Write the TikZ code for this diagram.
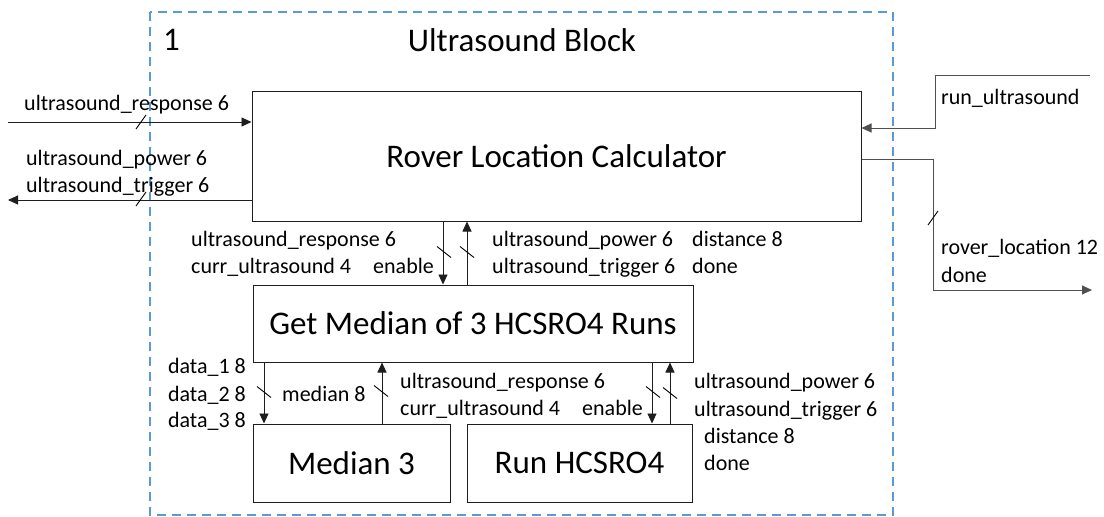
\documentclass[tikz,border=0pt]{standalone}
\usepackage{fontspec}
\setmainfont{Carlito}
\usetikzlibrary{arrows.meta}
\definecolor{dashblue}{RGB}{91,155,213}
\definecolor{wire}{RGB}{30,30,30}
\definecolor{graywire}{RGB}{80,80,80}
\begin{document}
\begin{tikzpicture}[x=1pt,y=-1pt,
  box/.style={draw=wire, line width=1pt, inner sep=0pt, font=\fontsize{33}{40}\selectfont},
  lbl/.style={inner sep=0pt, font=\fontsize{22}{26}\selectfont, text height=0.72em, text depth=0.22em},
  ttl/.style={inner sep=0pt, font=\fontsize{33}{40}\selectfont},
  arr/.style={draw=wire, line width=0.9pt, -{Triangle[length=10pt,width=9pt]}},
  garr/.style={draw=graywire, line width=1pt, -{Triangle[length=10pt,width=9pt]}},
  slashh/.pic={\draw[line width=0.9pt] (-5pt,-7pt) -- (5pt,7pt);},
  slashv/.pic={\draw[line width=0.9pt] (-7pt,5.5pt) -- (7pt,-5.5pt);},
]
\useasboundingbox (0,0) rectangle (1104,517);
% outer dashed block
\draw[dashblue, line width=1.6pt, dash pattern=on 9pt off 6pt] (150,12) rectangle (893,515);
\node[ttl, anchor=west] (num) at (163,40) {1};
\node[ttl] (title) at (522,40) {Ultrasound Block};

% boxes
\node[box, minimum width=609pt, minimum height=130pt] (rlc) at (556.5,156) {Rover Location Calculator};
\node[box, minimum width=440pt, minimum height=77pt] (gm) at (473,323.5) {Get Median of 3 HCSRO4 Runs};
\node[box, minimum width=197pt, minimum height=78pt] (m3) at (351.5,463) {Median 3};
\node[box, minimum width=225pt, minimum height=78pt] (rh) at (579.5,463) {Run HCSRO4};

% left external connectors
\coordinate (inL) at (8,122);
\coordinate (outL) at (8,200);
\draw[arr] (inL) -- (rlc.west |- inL);
\draw[arr] (rlc.west |- outL) -- (outL);
\pic at (141,122) {slashh};
\pic at (141,199) {slashh};
\node[lbl, anchor=west] (l1) at (24,108) {ultrasound\_response 6};
\node[lbl, anchor=west] (l2) at (26,163) {ultrasound\_power 6};
\node[lbl, anchor=west] (l3) at (26,190) {ultrasound\_trigger 6};

% right external connectors
\coordinate (runS) at (1090,75);
\coordinate (rlS) at (1092,290);
\draw[garr] (runS) -- (935,75) -- (935,128) -- (rlc.east |- 0,128);
\draw[garr] (rlc.east |- 0,159) -| (933,290) -- (rlS);
\pic at (933,218) {slashh};
\node[lbl, anchor=west] (l4) at (941,102) {run\_ultrasound};
\node[lbl, anchor=west] (l5) at (941,252) {rover\_location 12};
\node[lbl, anchor=west] (l6) at (941,280) {done};

% RLC <-> GM
\draw[arr] (rlc.south -| 443,0) -- (gm.north -| 443,0);
\draw[arr] (gm.north -| 467,0) -- (rlc.south -| 467,0);
\pic at (444,252) {slashv};
\pic at (467,252) {slashv};
\node[lbl, anchor=west] (l7) at (191,244) {ultrasound\_response 6};
\node[lbl, anchor=west] (l8) at (191,271) {curr\_ultrasound 4};
\node[lbl, anchor=east] (l9) at (434,271) {enable};
\node[lbl, anchor=west] (l10) at (492,244) {ultrasound\_power 6};
\node[lbl, anchor=west] (l11) at (692,244) {distance 8};
\node[lbl, anchor=west] (l12) at (492,271) {ultrasound\_trigger 6};
\node[lbl, anchor=west] (l13) at (692,271) {done};

% GM <-> Median 3
\draw[arr] (gm.south -| 264,0) -- (m3.north -| 264,0);
\draw[arr] (m3.north -| 382,0) -- (gm.south -| 382,0);
\pic at (264,392) {slashv};
\pic at (381,391) {slashv};
\node[lbl, anchor=east] (l14) at (246,371) {data\_1 8};
\node[lbl, anchor=east] (l15) at (246,399) {data\_2 8};
\node[lbl, anchor=east] (l16) at (246,425) {data\_3 8};
\node[lbl, anchor=west] (l17) at (282,399) {median 8};

% GM <-> Run HCSRO4
\draw[arr] (gm.south -| 652,0) -- (rh.north -| 652,0);
\draw[arr] (rh.north -| 670,0) -- (gm.south -| 670,0);
\pic at (653,392) {slashv};
\pic at (670,393) {slashv};
\node[lbl, anchor=west] (l18) at (400,386) {ultrasound\_response 6};
\node[lbl, anchor=west] (l19) at (400,413) {curr\_ultrasound 4};
\node[lbl, anchor=east] (l20) at (643,413) {enable};
\node[lbl, anchor=west] (l21) at (694,386) {ultrasound\_power 6};
\node[lbl, anchor=west] (l22) at (694,414) {ultrasound\_trigger 6};
\node[lbl, anchor=west] (l23) at (704,441) {distance 8};
\node[lbl, anchor=west] (l24) at (704,468) {done};
\end{tikzpicture}
\end{document}
